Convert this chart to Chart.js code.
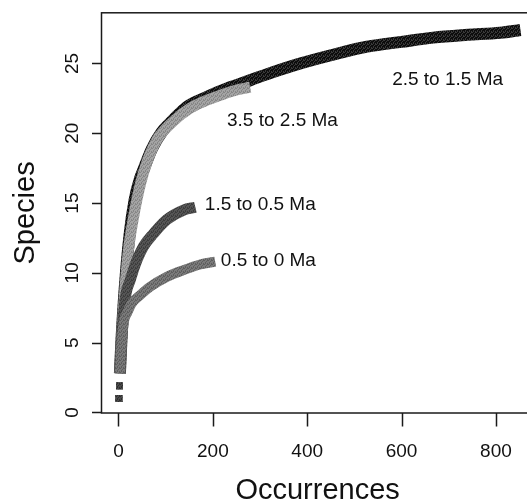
<!DOCTYPE html>
<html><head><meta charset="utf-8">
<script src="https://cdn.jsdelivr.net/npm/chart.js@4"></script>
<style>
html,body{margin:0;padding:0;background:#fff;overflow:hidden;width:527px;height:504px}
#wrap{position:relative;width:545px;height:504px}
</style></head>
<body><div id="wrap"><canvas id="c" width="545" height="504"></canvas></div>
<script>
// ---- data ----
const seriesNames = ["2.5 to 1.5 Ma", "3.5 to 2.5 Ma", "1.5 to 0.5 Ma", "0.5 to 0 Ma"];

const occ_25_15 = [1, 2, 3, 6, 13, 23, 34, 46, 53, 71, 92, 117, 145, 187, 237, 279, 329, 385, 463, 527, 600, 667, 740, 809, 852];
const sp_25_15  = [1, 1.9, 2.8, 5.0, 8.8, 12.6, 15.2, 16.8, 17.4, 18.9, 20.1, 21.0, 21.9, 22.6, 23.3, 23.8, 24.4, 25.0, 25.7, 26.2, 26.55, 26.85, 27.05, 27.2, 27.4];

const occ_35_25 = [1, 2, 3, 6, 13, 21, 32, 46, 60, 81, 116, 152, 190, 222, 250, 279];
const sp_35_25  = [1, 1.9, 2.8, 5.0, 8.6, 11.6, 14.0, 16.3, 17.9, 19.5, 20.85, 21.8, 22.4, 22.8, 23.1, 23.3];

const occ_15_05 = [1, 2, 3, 6, 14, 25, 39, 53, 74, 102, 138, 163];
const sp_15_05  = [1, 1.9, 2.8, 5.0, 8.1, 9.5, 10.9, 11.9, 12.8, 13.8, 14.5, 14.7];

const occ_05_0 = [1, 2, 3, 6, 12, 18, 28, 46, 67, 102, 138, 173, 205];
const sp_05_0  = [1, 1.9, 2.8, 4.8, 6.6, 7.1, 7.8, 8.4, 9.0, 9.7, 10.2, 10.6, 10.8];

const xTickValues = [0, 200, 400, 600, 800];
const yTickValues = [0, 5, 10, 15, 20, 25];
const xTitle = "Occurrences";
const yTitle = "Species";

// text annotation anchors (data coordinates, left edge / middle)
const labelX = [580, 230, 183, 217];
const labelY = [23.8, 20.9, 14.9, 10.9];

// ---- helpers ----
function pts(xs, ys){ return xs.map((x,i)=>({x:x, y:ys[i]})); }
function dither(c1, c2){
  const cv = document.createElement('canvas'); cv.width = 4; cv.height = 4;
  const g = cv.getContext('2d');
  g.fillStyle = c1; g.fillRect(0,0,4,4);
  g.fillStyle = c2;
  g.fillRect(0,0,1,1); g.fillRect(2,1,1,1); g.fillRect(1,2,1,1); g.fillRect(3,3,1,1);
  g.fillRect(3,0,1,1); g.fillRect(1,3,1,1);
  return g.createPattern(cv, 'repeat');
}
const ctx0 = document.getElementById('c').getContext('2d');
const colBlack = dither('#0d0d0d', '#3a3a3a');
const colLight = dither('#a4a4a4', '#868686');
const colDark  = dither('#555555', '#3c3c3c');
const colMid   = dither('#7a7a7a', '#5e5e5e');
const colDot   = dither('#4a4a4a', '#2e2e2e');

function mkSet(name, xs, ys, col, w, ord){
  return {
    label: name, data: pts(xs, ys), borderColor: col, backgroundColor: colDot, order: ord,
    borderWidth: w, cubicInterpolationMode: 'monotone', borderCapStyle: 'butt', borderJoinStyle: 'round',
    pointRadius: ctx => ctx.dataIndex < 2 ? 4.8 : 0, pointStyle: 'rect', pointBorderWidth: 0,
    segment: { borderColor: s => s.p0DataIndex < 2 ? 'rgba(0,0,0,0)' : undefined },
    fill: false
  };
}

const FONT = '"Liberation Sans", Arial, Helvetica, sans-serif';

const axesPlugin = {
  id: 'rAxes',
  afterDatasetsDraw(chart){
    const {ctx, scales:{x, y}} = chart;
    ctx.save();
    ctx.fillStyle = '#111';
    ctx.font = '19px ' + FONT;
    ctx.textAlign = 'left'; ctx.textBaseline = 'middle';
    seriesNames.forEach((n,i)=>{ ctx.fillText(n, x.getPixelForValue(labelX[i]), y.getPixelForValue(labelY[i])); });
    ctx.restore();
  },
  afterDraw(chart){
    const {ctx, chartArea:a, scales:{x, y}} = chart;
    ctx.save();
    ctx.strokeStyle = '#1a1a1a'; ctx.lineWidth = 1.5;
    ctx.strokeRect(a.left, a.top, a.right - a.left, a.bottom - a.top);
    ctx.beginPath();
    xTickValues.forEach(v=>{ const p = Math.round(x.getPixelForValue(v)) + 0.5; ctx.moveTo(p, a.bottom); ctx.lineTo(p, a.bottom + 13.5); });
    yTickValues.forEach(v=>{ const p = Math.round(y.getPixelForValue(v)) + 0.5; ctx.moveTo(a.left, p); ctx.lineTo(a.left - 9.5, p); });
    ctx.stroke();
    ctx.fillStyle = '#111';
    ctx.font = '19px ' + FONT;
    ctx.textAlign = 'center'; ctx.textBaseline = 'middle';
    xTickValues.forEach(v=>{ ctx.fillText(String(v), x.getPixelForValue(v), 452); });
    yTickValues.forEach(v=>{
      ctx.save(); ctx.translate(73, y.getPixelForValue(v)); ctx.rotate(-Math.PI/2);
      ctx.fillText(String(v), 0, 0); ctx.restore();
    });
    ctx.font = '29px ' + FONT;
    ctx.textBaseline = 'alphabetic';
    ctx.fillText(xTitle, (a.left + a.right)/2, 499);
    ctx.save(); ctx.translate(34, (a.top + a.bottom)/2); ctx.rotate(-Math.PI/2);
    ctx.fillText(yTitle, 0, 0); ctx.restore();
    ctx.restore();
  }
};

new Chart(ctx0, {
  type: 'line',
  data: { datasets: [
    mkSet(seriesNames[0], occ_25_15, sp_25_15, colBlack, 12, 4),
    mkSet(seriesNames[1], occ_35_25, sp_35_25, colLight, 11, 3),
    mkSet(seriesNames[2], occ_15_05, sp_15_05, colDark, 11, 2),
    mkSet(seriesNames[3], occ_05_0, sp_05_0, colMid, 10, 1)
  ]},
  options: {
    responsive: false, animation: false, devicePixelRatio: 1,
    layout: { padding: { left: 101.5, top: 12.8, right: 11.3, bottom: 91 } },
    plugins: { legend: { display: false }, tooltip: { enabled: false } },
    scales: {
      x: { type: 'linear', display: false, min: -36, max: 880 },
      y: { type: 'linear', display: false, min: -0.04, max: 28.63 }
    }
  },
  plugins: [axesPlugin]
});
</script>
</body></html>
